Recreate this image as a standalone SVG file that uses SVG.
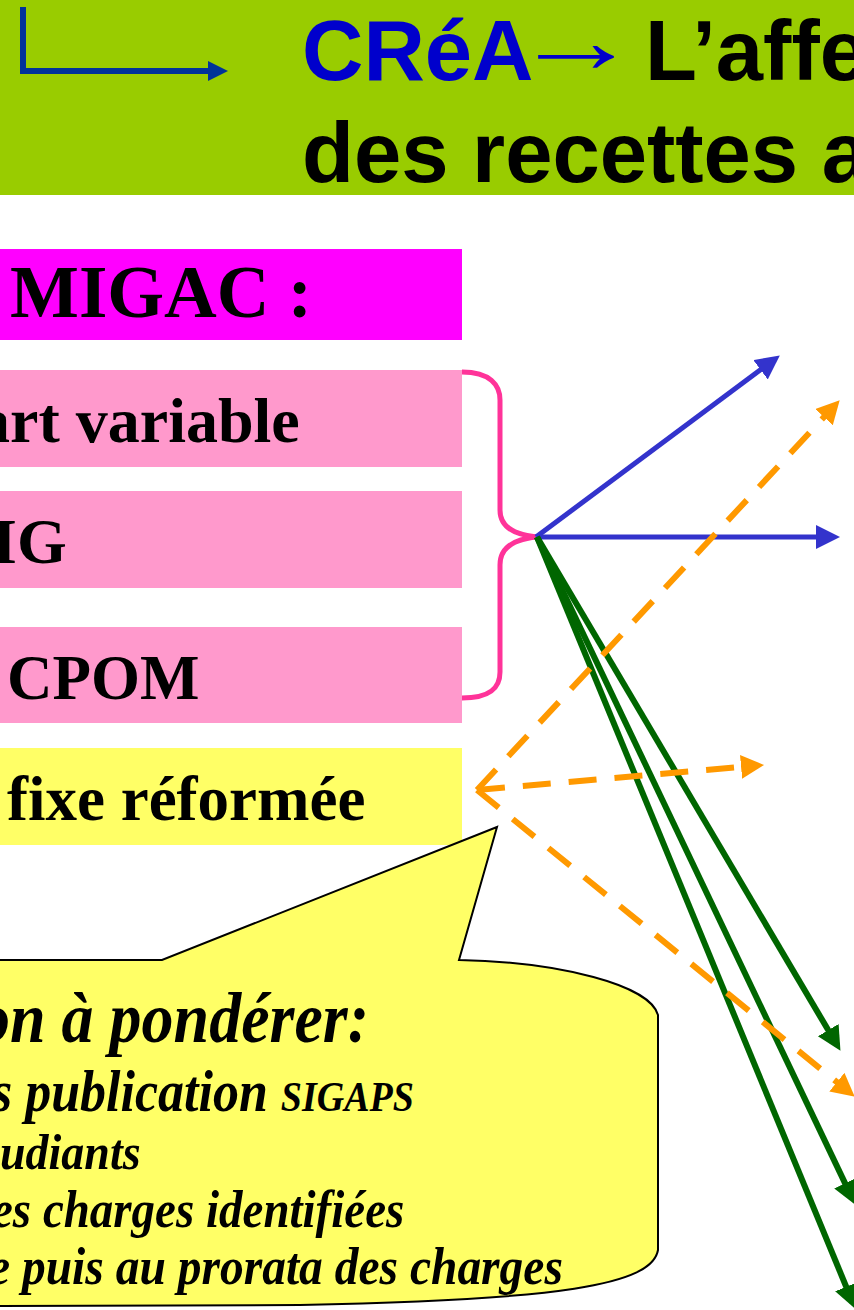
<svg xmlns="http://www.w3.org/2000/svg" width="854" height="1310" viewBox="0 0 854 1310">
<style>
.sans{font-family:"Liberation Sans",Arial,sans-serif;font-weight:bold}
.serif{font-family:"Liberation Serif","Times New Roman",serif;font-weight:bold}
.ital{font-family:"Liberation Serif","Times New Roman",serif;font-weight:bold;font-style:italic;fill:#000}
.pink{fill:#FF99CC}
.blue{stroke:#3333CC;stroke-width:5;fill:none}
.green{stroke:#006600;stroke-width:6;fill:none}
.orange{stroke:#FF9900;stroke-width:6;fill:none;stroke-dasharray:28 18}
</style>
<defs>
<marker id="hb" markerUnits="userSpaceOnUse" markerWidth="26" markerHeight="26" refX="17" refY="12" orient="auto"><path d="M0,0 L24,12 L0,24 Z" fill="#3333CC"/></marker>
<marker id="hg" markerUnits="userSpaceOnUse" markerWidth="26" markerHeight="26" refX="17" refY="12" orient="auto"><path d="M0,0 L24,12 L0,24 Z" fill="#006600"/></marker>
<marker id="ho" markerUnits="userSpaceOnUse" markerWidth="26" markerHeight="26" refX="16" refY="12" orient="auto"><path d="M0,0 L23,12 L0,24 Z" fill="#FF9900"/></marker>
<marker id="hd" markerUnits="userSpaceOnUse" markerWidth="22" markerHeight="22" refX="14" refY="10" orient="auto"><path d="M0,0 L20,10 L0,20 Z" fill="#003399"/></marker>
</defs>
<rect width="854" height="1310" fill="#FFFFFF"/>
<g id="title">
<rect x="0" y="0" width="854" height="195" fill="#99CC00"/>
<path d="M23,7 L23,71 L222,71" stroke="#003399" stroke-width="6" fill="none" marker-end="url(#hd)"/>
<text x="302" y="80" class="sans" font-size="85" fill="#0000CC">CRéA</text>
<text transform="translate(512,72) scale(1.6,1.15)" font-family="Liberation Sans,Arial,sans-serif" font-size="80" fill="#0000CC">→</text>
<text x="645" y="80" class="sans" font-size="85" fill="#000">L’affe</text>
<text x="302" y="182" class="sans" font-size="85" fill="#000">des recettes a</text>
</g>
<g id="box-migac">
<rect x="0" y="249" width="462" height="91" fill="#FF00FF"/>
<text x="10" y="317" class="serif" font-size="73" fill="#000">MIGAC :</text>
</g>
<g id="box-part-variable">
<rect x="0" y="370" width="462" height="97" class="pink"/>
<text x="-22" y="442" class="serif" font-size="64" fill="#000">art variable</text>
</g>
<g id="box-mig">
<rect x="0" y="491" width="462" height="97" class="pink"/>
<text x="-8" y="563" class="serif" font-size="64" fill="#000">IG</text>
</g>
<g id="box-cpom">
<rect x="0" y="627" width="462" height="96" class="pink"/>
<text x="7" y="699" class="serif" font-size="63" fill="#000">CPOM</text>
</g>
<g id="box-fixe">
<rect x="0" y="748" width="462" height="97" fill="#FFFF66"/>
<text x="7" y="820" class="serif" font-size="63" fill="#000">fixe réformée</text>
</g>
<g id="brace">
<path d="M462,372 C490,372 500,385 500,400 L500,510 C500,527 515,535 537,537 C515,539 500,547 500,565 L500,672 C500,688 490,698 462,698" stroke="#FF3399" stroke-width="5" fill="none"/>
</g>
<g id="callout">
<path d="M-5,960 L162,960 L497,827 L459,960 C560,962 650,985 658,1015 L658,1250 C652,1285 560,1300 300,1305 L-5,1306 Z" fill="#FFFF66" stroke="#000" stroke-width="2"/>
<text transform="translate(-22,1042) scale(1,1.12)" class="ital" font-size="64">on à pondérer:</text>
<text transform="translate(-8,1111) scale(1,1.12)" class="ital" font-size="52">s publication <tspan font-size="38">SIGAPS</tspan></text>
<text transform="translate(0,1169) scale(1,1.12)" class="ital" font-size="46">udiants</text>
<text transform="translate(-8,1227) scale(1,1.12)" class="ital" font-size="47">es charges identifiées</text>
<text transform="translate(-11,1284) scale(1,1.12)" class="ital" font-size="47.5">e puis au prorata des charges</text>
</g>
<g id="connectors">
<line x1="536" y1="537" x2="774.2" y2="359.6" class="blue" marker-end="url(#hb)"/>
<line x1="536" y1="537" x2="833" y2="537" class="blue" marker-end="url(#hb)"/>
<line x1="537" y1="537" x2="836.9" y2="1044.8" class="green" marker-end="url(#hg)"/>
<line x1="537" y1="537" x2="852.4" y2="1198.6" class="green" marker-end="url(#hg)"/>
<line x1="537" y1="537" x2="852.7" y2="1302.5" class="green" marker-end="url(#hg)"/>
<line x1="477" y1="790" x2="834.9" y2="405.4" class="orange" marker-end="url(#ho)"/>
<line x1="477" y1="790" x2="757" y2="765.5" class="orange" marker-end="url(#ho)"/>
<line x1="477" y1="790" x2="849.3" y2="1092.2" class="orange" marker-end="url(#ho)"/>
</g>
</svg>
